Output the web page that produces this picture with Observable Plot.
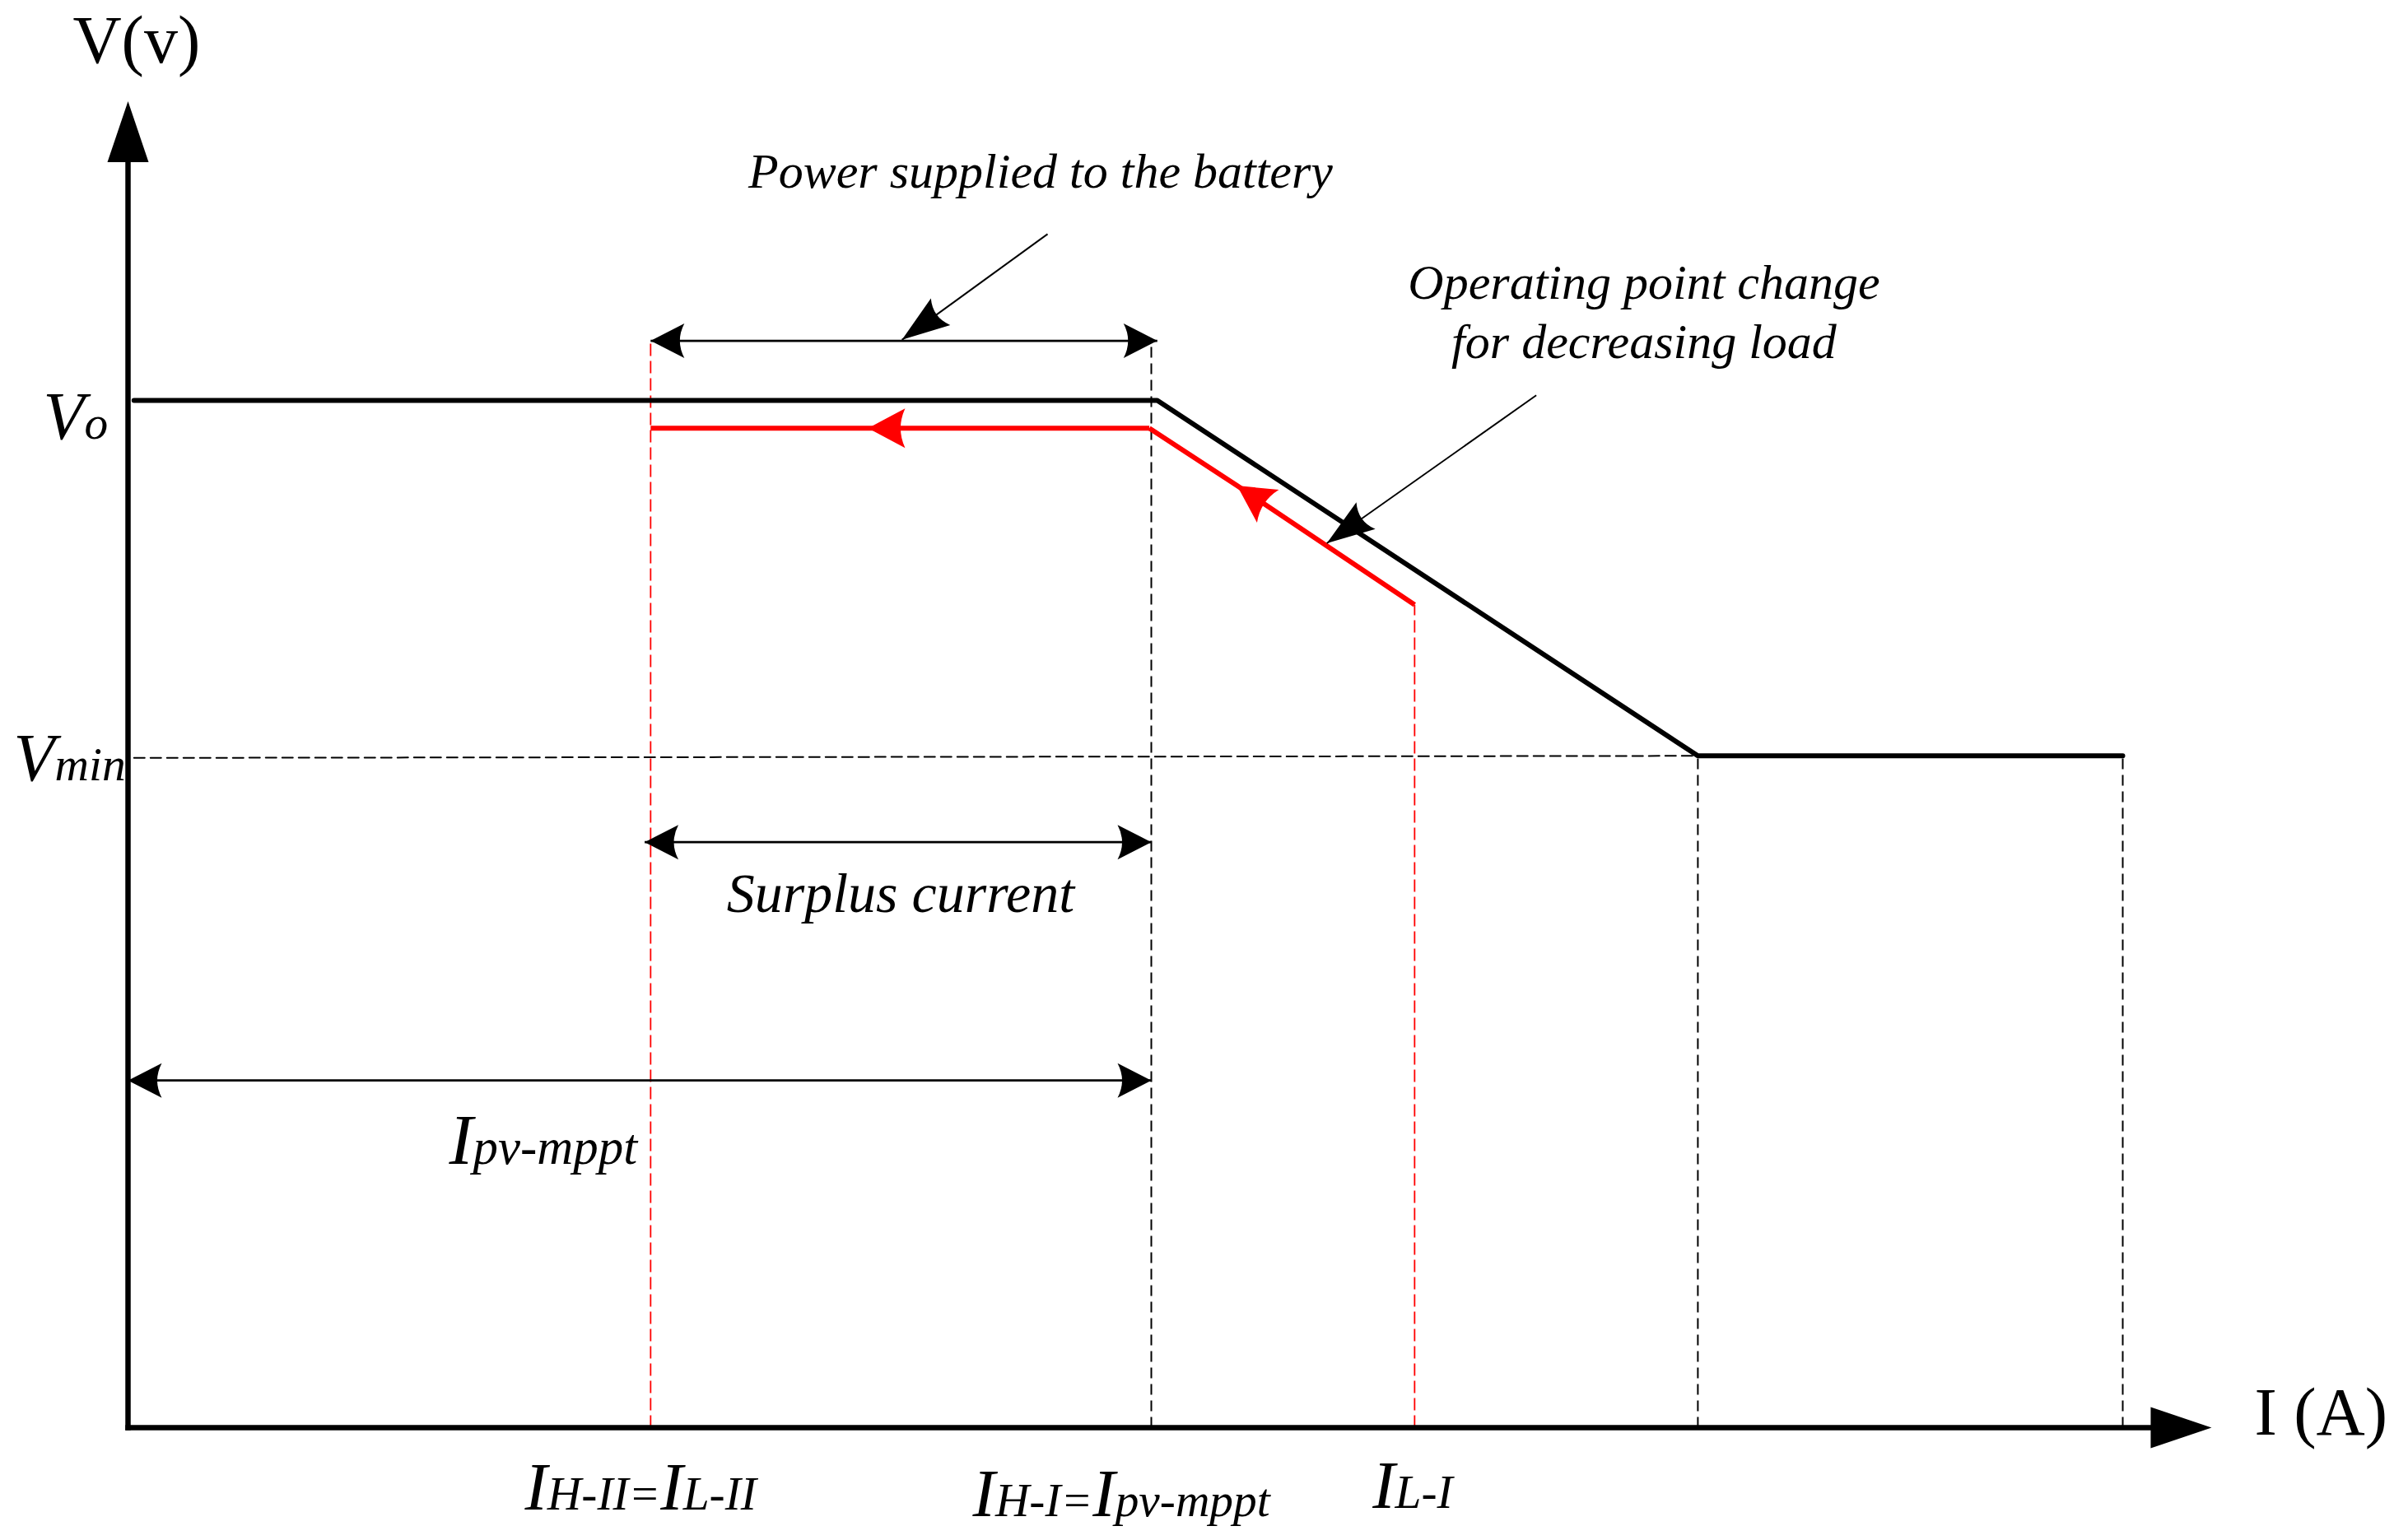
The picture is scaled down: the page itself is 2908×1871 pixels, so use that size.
<!DOCTYPE html>
<html>
<head>
<meta charset="utf-8">
<script src="https://cdn.jsdelivr.net/npm/d3@7"></script>
<script src="https://cdn.jsdelivr.net/npm/@observablehq/plot@0.6"></script>
<style>
  html, body { margin: 0; padding: 0; background: #fff; }
  #chart svg { display: block; }
</style>
</head>
<body>
<div id="chart"></div>
<script>
// ---------------- Data (diagram units: I in A, V in V) ----------------
// Characteristic I-V (droop) curve, black
const blackI = [0.03, 5.16, 7.87, 10];
const blackV = [10, 10, 6.54, 6.54];
// Operating point movement, red (diagonal part, then flat part)
const redDiagI = [6.45, 5.56, 5.12];
const redDiagV = [8.01, 9.17, 9.73];
const redFlatI = [5.12, 3.71, 2.62];
const redFlatV = [9.73, 9.73, 9.73];
// Dimension (double headed) arrows: power, surplus, Ipv-mppt
const dimFromI = [2.62, 2.59, 0];
const dimToI = [5.16, 5.13, 5.13];
const dimV = [10.58, 5.70, 3.38];
// Pointer arrows from annotations
const ptrFromI = [4.61, 7.06];
const ptrFromV = [11.62, 10.05];
const ptrToI = [3.88, 6.01];
const ptrToV = [10.59, 8.61];
// Dashed guide lines
const redGuideI = [2.62, 6.45];
const redGuideTopV = [10.58, 8.01];
const blackGuideI = [5.13, 7.87, 10];
const blackGuideTopV = [10.58, 6.54, 6.54];
const vminGuideI = [0.03, 7.87];
const vminGuideV = [6.52, 6.54];
// Axis extents (where the arrow heads start)
const axisEndI = 10.14;
const axisEndV = 12.32;
// Texts
const annotTexts = ["Power supplied to the battery", "Operating point change", "for decreasing load"];
const annotI = [4.575, 7.60, 7.60];
const annotV = [12.07, 10.99, 10.41];
const surplusText = ["Surplus current"];
const surplusI = [3.873];
const surplusV = [5.02];
const tickLabels = ["I_{H-II=}I_{L-II}", "I_{H-I=}I_{pv-mppt}", "I_{L-I}"];
const tickLabelI = [2.57, 4.98, 6.44];
const tickLabelV = [-0.80, -0.86, -0.785];
const vLabels = ["V_{o}", "V_{min}"];
const vLabelI = [-0.425, -0.574];
const vLabelV = [9.63, 6.30];
const ipvLabel = ["I_{pv-mppt}"];
const ipvLabelI = [1.61];
const ipvLabelV = [2.57];
const axisTitles = ["V(v)", "I (A)"];
const axisTitleI = [-0.277, 10.66];
const axisTitleV = [13.29, -0.072];

// ---------------- Helpers ----------------
const SVGNS = "http://www.w3.org/2000/svg";
function makeMarker(pathD, size) {
  return function (color, context) {
    const doc = (context && context.document) || document;
    const m = doc.createElementNS(SVGNS, "marker");
    m.setAttribute("viewBox", `${-size} ${-size} ${2 * size} ${2 * size}`);
    m.setAttribute("markerWidth", 2 * size);
    m.setAttribute("markerHeight", 2 * size);
    m.setAttribute("markerUnits", "userSpaceOnUse");
    m.setAttribute("refX", 0);
    m.setAttribute("refY", 0);
    m.setAttribute("orient", "auto-start-reverse");
    m.setAttribute("overflow", "visible");
    const p = doc.createElementNS(SVGNS, "path");
    p.setAttribute("d", pathD);
    p.setAttribute("fill", color);
    p.setAttribute("stroke", "none");
    m.appendChild(p);
    return m;
  };
}
const concave = (len, hw, notch) => `M0,0L${-len},${-hw}Q${-len + notch},0 ${-len},${hw}Z`;
const dimArrow = makeMarker(concave(41, 21, 11), 50);
const ptrArrow = makeMarker(concave(58, 20, 12), 70);
const redArrow = makeMarker(concave(45, 24, 11), 55);
const axisArrow = makeMarker("M0,-25L74,0L0,25Z", 80);

const pts = (xs, ys) => xs.map((x, i) => ({I: x, V: ys[i]}));
const idx = (arr) => arr.map((_, i) => i);

const serif = "'Liberation Serif', 'Times New Roman', serif";

const chart = Plot.plot({
  width: 2908,
  height: 1871,
  marginTop: 0, marginRight: 0, marginBottom: 0, marginLeft: 0,
  x: {domain: [0, 10], range: [155, 2578], axis: null},
  y: {domain: [0, 10], range: [1734, 486], axis: null},
  style: {background: "#fff", fontFamily: serif},
  marks: [
    // dashed guides
    Plot.link(idx(redGuideI), {x1: redGuideI, x2: redGuideI, y1: redGuideI.map(() => 0), y2: redGuideTopV,
      stroke: "#ff0000", strokeWidth: 1.8, strokeDasharray: "15,6"}),
    Plot.link(idx(blackGuideI), {x1: blackGuideI, x2: blackGuideI, y1: blackGuideI.map(() => 0), y2: blackGuideTopV,
      stroke: "#000", strokeWidth: 2, strokeDasharray: "13,7"}),
    Plot.line(pts(vminGuideI, vminGuideV), {x: "I", y: "V", stroke: "#000", strokeWidth: 2, strokeDasharray: "13,7"}),
    // black characteristic
    Plot.line(pts(blackI, blackV), {x: "I", y: "V", stroke: "#000", strokeWidth: 6, strokeLinejoin: "miter"}),
    // red operating point path with direction arrows
    Plot.line(pts(redDiagI, redDiagV), {x: "I", y: "V", stroke: "#ff0000", strokeWidth: 6, markerMid: redArrow, strokeLinecap: "butt"}),
    Plot.line(pts(redFlatI, redFlatV), {x: "I", y: "V", stroke: "#ff0000", strokeWidth: 6, markerMid: redArrow, strokeLinecap: "butt"}),
    // dimension arrows
    Plot.link(idx(dimV), {x1: dimFromI, x2: dimToI, y1: dimV, y2: dimV,
      stroke: "#000", strokeWidth: 2.8, markerStart: dimArrow, markerEnd: dimArrow}),
    // pointer arrows
    Plot.link(idx(ptrFromI), {x1: ptrFromI, y1: ptrFromV, x2: ptrToI, y2: ptrToV,
      stroke: "#000", strokeWidth: 2, markerEnd: ptrArrow}),
    // axes
    Plot.link([0], {x1: [0], y1: [0], x2: [axisEndI], y2: [0], stroke: "#000", strokeWidth: 6.5, strokeLinecap: "square", markerEnd: axisArrow}),
    Plot.link([0], {x1: [0], y1: [0], x2: [0], y2: [axisEndV], stroke: "#000", strokeWidth: 6.5, strokeLinecap: "square", markerEnd: axisArrow}),
    // texts
    Plot.text(annotTexts, {x: annotI, y: annotV, text: d => d, fontSize: 60, fontStyle: "italic",
      fontFamily: serif, textAnchor: "middle", lineAnchor: "bottom", fill: "#000"}),
    Plot.text(surplusText, {x: surplusI, y: surplusV, text: d => d, fontSize: 68, fontStyle: "italic",
      fontFamily: serif, textAnchor: "middle", lineAnchor: "bottom", fill: "#000"}),
    Plot.text(tickLabels, {x: tickLabelI, y: tickLabelV, text: d => d, fontSize: 82, fontStyle: "italic",
      fontFamily: serif, textAnchor: "middle", lineAnchor: "bottom", fill: "#000"}),
    Plot.text(vLabels, {x: vLabelI, y: vLabelV, text: d => d, fontSize: 82, fontStyle: "italic",
      fontFamily: serif, textAnchor: "start", lineAnchor: "bottom", fill: "#000"}),
    Plot.text(ipvLabel, {x: ipvLabelI, y: ipvLabelV, text: d => d, fontSize: 87, fontStyle: "italic",
      fontFamily: serif, textAnchor: "start", lineAnchor: "bottom", fill: "#000"}),
    Plot.text(axisTitles, {x: axisTitleI, y: axisTitleV, text: d => d, fontSize: 82,
      fontFamily: serif, textAnchor: "start", lineAnchor: "bottom", fill: "#000"})
  ]
});

// Render "_{...}" parts of labels as smaller (same-baseline) subscripts
function applySubscripts(svg) {
  for (const t of svg.querySelectorAll("text")) {
    const s = t.textContent;
    if (!s.includes("_{")) continue;
    t.textContent = "";
    const re = /_\{([^}]*)\}|([^_]+)/g;
    let m;
    while ((m = re.exec(s)) !== null) {
      const ts = document.createElementNS(SVGNS, "tspan");
      if (m[1] !== undefined) {
        ts.textContent = m[1];
        ts.setAttribute("font-size", "0.7em");
      } else {
        ts.textContent = m[2];
      }
      t.appendChild(ts);
    }
  }
}
applySubscripts(chart);
document.getElementById("chart").appendChild(chart);
</script>
</body>
</html>
